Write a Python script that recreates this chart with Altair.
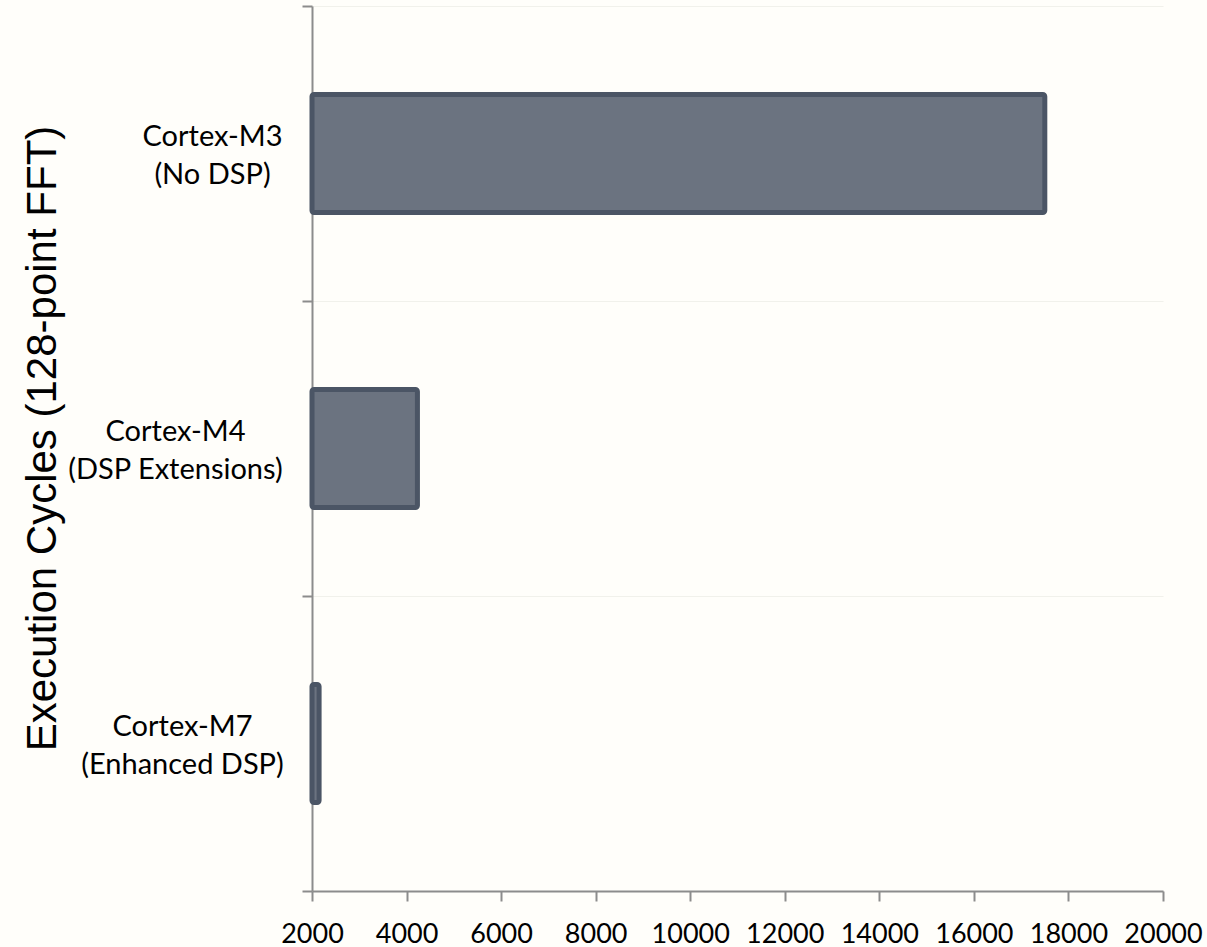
import altair as alt
import pandas as pd

chips = ["Cortex-M3", "Cortex-M4", "Cortex-M7"]
dsp = ["(No DSP)", "(DSP Extensions)", "(Enhanced DSP)"]
cycles = [17500, 4230, 2150]
x_ticks = [2000, 4000, 6000, 8000, 10000, 12000, 14000, 16000, 18000, 20000]
axis_min = 2000
axis_max = 20000

labels = [f"{c}\n{d}" for c, d in zip(chips, dsp)]
df = pd.DataFrame({"proc": labels, "cycles": cycles, "base": [axis_min] * len(labels)})

axis_gray = "#8c8c8c"
label_pad = [90, 127, 120]  # each label block sits at its own distance from the axis

y_scale = alt.Scale(paddingInner=0, paddingOuter=0)


def x_enc():
    return alt.X(
        "cycles:Q",
        scale=alt.Scale(domain=[axis_min, axis_max], nice=False, zero=False),
        axis=alt.Axis(
            title=None,
            values=x_ticks,
            format="d",
            labelFont="Lato",
            labelFontSize=27,
            labelColor="#000000",
            labelPadding=20,
            labelFlush=False,
            tickSize=10,
            tickWidth=2,
            tickColor=axis_gray,
            domainColor=axis_gray,
            domainWidth=2,
            grid=False,
        ),
    )


def label_axis(i, main):
    common = dict(
        orient="left",
        labelExpr=f"indexof(datum.label, '{chips[i]}') >= 0 ? split(datum.label, '\\n') : ''",
        labelAlign="center",
        labelBaseline="middle",
        labelFont="Lato",
        labelFontSize=29,
        labelLineHeight=38,
        labelOffset=-17,
        labelColor="#000000",
        labelPadding=label_pad[i],
        labelLimit=0,
        tickSize=10,
        tickBand="extent",
    )
    if main:
        return alt.Axis(
            title="Execution Cycles (128-point FFT)",
            titleFont="Liberation Sans",
            titleFontSize=42,
            titleFontWeight="normal",
            titleColor="#000000",
            titleAngle=270,
            titleAlign="center",
            titleBaseline="alphabetic",
            titleX=-257,
            titleY=432,
            tickWidth=2,
            tickColor=axis_gray,
            domainColor=axis_gray,
            domainWidth=2,
            grid=True,
            gridColor="#f1f1eb",
            gridWidth=1,
            **common,
        )
    return alt.Axis(
        title=None,
        domain=False,
        grid=False,
        tickOpacity=0,
        **common,
    )


bars = (
    alt.Chart(df)
    .mark_bar(
        fill="#6b7380",
        stroke="#4b5565",
        strokeWidth=5,
        cornerRadius=2,
        height=alt.RelativeBandSize(0.40),
    )
    .encode(
        y=alt.Y("proc:N", sort=labels, scale=y_scale, axis=label_axis(0, True)),
        x=x_enc(),
        x2="base:Q",
    )
)

extra = [
    alt.Chart(df)
    .mark_bar(opacity=0, height=alt.RelativeBandSize(0.40))
    .encode(
        y=alt.Y("proc:N", sort=labels, scale=y_scale, axis=label_axis(i, False)),
        x=x_enc(),
        x2="base:Q",
    )
    for i in (1, 2)
]

chart = (
    alt.layer(bars, *extra)
    .resolve_axis(y="independent")
    .properties(
        width=851,
        height=885,
        padding={"left": 312, "top": 6, "right": 44, "bottom": 56},
        autosize=alt.AutoSizeParams(type="none"),
        background="#fffefa",
    )
    .configure_view(stroke=None)
)

chart.save("out.html", embed_options={"renderer": "svg", "actions": False})
